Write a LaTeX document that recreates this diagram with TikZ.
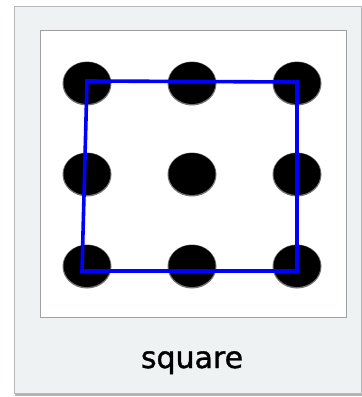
\documentclass[tikz,border=0pt]{standalone}
\usepackage{fontspec}
\newfontfamily\labelfont[FakeBold=1.2]{DejaVu Sans}
\usetikzlibrary{shapes.geometric}
\definecolor{paper}{HTML}{EEF2F3}
\definecolor{paperedge}{HTML}{B4B8B8}
\definecolor{photoedge}{HTML}{A0A0A0}
\definecolor{linkblue}{HTML}{0000FF}
\tikzset{
  dotshade/.style={ellipse, fill=black!55, minimum width=49pt, minimum height=44pt, inner sep=0pt},
  dotnode/.style={ellipse, fill=black, minimum width=47pt, minimum height=42pt, inner sep=0pt},
  bluepath/.style={draw=linkblue, line width=3.6pt, line join=miter},
}
\begin{document}
\begin{tikzpicture}[x=1pt,y=-1pt]
\useasboundingbox (0,0) rectangle (362,397);
\fill[white] (0,0) rectangle (362,397);
% polaroid frame
\fill[black!30] (15,8) rectangle (362,396);
\fill[paper, draw=paperedge, line width=0.8pt] (14,6) rectangle (361,393);
% photo area
\fill[white, draw=photoedge, line width=0.8pt] (40,30) rectangle (346,317);
% dots
\foreach \r/\y in {1/83,2/174,3/266}{
  \foreach \c/\x in {1/87,2/192,3/297}{
    \node[dotshade] at (\x,\y+0.5) {};
    \node[dotnode] (d\r\c) at (\x,\y) {};
  }
}
% blue square
\coordinate (tl) at (87,81);
\coordinate (tr) at (297,82);
\coordinate (br) at (297,271);
\coordinate (bl) at (82,271);
\draw[bluepath] (tl) -- (tr) -- (br) -- (bl) -- cycle;
% caption
\node[font=\labelfont\fontsize{30}{36}\selectfont, anchor=base] (cap) at (192,368) {square};
\end{tikzpicture}
\end{document}
